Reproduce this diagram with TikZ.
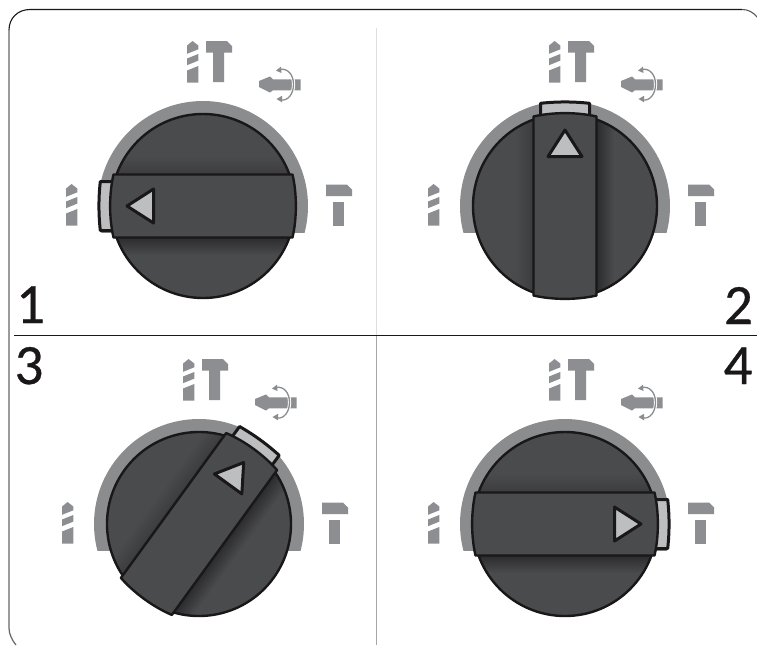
\documentclass[tikz,border=0pt]{standalone}
\usepackage{fontspec}
\setmainfont{Carlito}[FakeBold=0.5]
\definecolor{knobfill}{HTML}{4A4B4D}
\definecolor{knobdark}{HTML}{2B2B2D}
\definecolor{knobline}{HTML}{1A1718}
\definecolor{arcgrey}{HTML}{8A8C8E}
\definecolor{icongrey}{HTML}{8C8E91}
\definecolor{markfill}{HTML}{BCBEC0}
\tikzset{
  knobedge/.style={draw=knobline,line width=2.4pt,line join=round},
  markedge/.style={draw=knobline,line width=3pt,line join=round,fill=markfill},
  icon/.style={fill=icongrey},
  numeral/.style={anchor=base,inner sep=0pt,text=knobline,font=\fontsize{57}{57}\selectfont},
}
\newcommand{\drillicon}[2]{%
  \begin{scope}[shift={(#1,#2)}]
    \fill[icon] (5.6,0) -- (11.3,4.5) -- (11.3,8.3) -- (0,12.8) -- (0,4.5) -- cycle;
    \fill[icon] (11.3,13) -- (11.3,19.6) -- (0,24.2) -- (0,17.5) -- cycle;
    \fill[icon] (11.3,25) -- (11.3,41.5) -- (0,41.5) -- (0,29.5) -- cycle;
  \end{scope}}
\newcommand{\fulltee}[2]{%
  \begin{scope}[shift={(#1,#2)}]
    \fill[icon] (0,0) -- (21,0) -- (26,5) -- (26,11.5) -- (18,11.5) -- (18,41) -- (7,41) -- (7,11.5) -- (0,11.5) -- cycle;
  \end{scope}}
\newcommand{\splittee}[2]{%
  \begin{scope}[shift={(#1,#2)}]
    \fill[icon] (0,0) -- (21,0) -- (26,5) -- (26,11.5) -- (0,11.5) -- cycle;
    \fill[icon] (6.5,17) rectangle (17.5,41);
  \end{scope}}
\newcommand{\rivet}[2]{%
  \begin{scope}[shift={(#1,#2)}]
    \fill[icon] (0,14) -- (11,9.5) -- (14,12.3) -- (41.7,12.3) -- (41.7,23.3) -- (14,23.3) -- (11,25.5) -- (0,20) -- cycle;
    \draw[white,line width=3.2pt] (24,1.8) .. controls (31,2.5) and (34.5,9) .. (34.5,17.3) .. controls (34.5,26) and (31,32.5) .. (24,33);
    \draw[arcgrey,line width=1.3pt] (21,2.4) .. controls (29,1) and (34.5,8) .. (34.5,17.3) .. controls (34.5,27) and (29,34) .. (22,33);
    \fill[arcgrey] (17,3.6) -- (22,-0.4) -- (22.5,6) -- cycle;
    \fill[arcgrey] (17.5,32) -- (23,28.8) -- (23,35.3) -- cycle;
  \end{scope}}
\newcommand{\knob}[4]{%
  % #1,#2 centre; #3 rotation; #4 which side of the bar takes the strong shadow
  \begin{scope}[shift={(#1,#2)}]
    \begin{scope}
      \clip (-110,-110) rectangle (110,26);
      \fill[arcgrey] (0,0) circle (105pt);
    \end{scope}
    \begin{scope}[rotate=#3,yscale=#4]
      \draw[markedge] (-90,-24.5) -- (-102.7,-24.5) .. controls (-104.5,-8) and (-104.5,8) .. (-102.7,24.5) -- (-90,24.5);
      \fill[knobfill] (0,0) circle (92pt);
      \begin{scope}
        \clip (0,0) circle (92pt);
        \foreach \k in {0,...,18} {
          \pgfmathsetmacro{\pc}{100-\k*100/18}
          \pgfmathsetmacro{\ya}{31+\k}
          \fill[knobdark!\pc!knobfill] (-95,\ya) rectangle (95,95);
          \pgfmathsetmacro{\pb}{45-\k*45/18}
          \pgfmathsetmacro{\yb}{-31-\k}
          \fill[knobdark!\pb!knobfill] (-95,\yb) rectangle (95,-95);
        }
      \end{scope}
      \draw[knobedge] (0,0) circle (92pt);
      \draw[knobedge,fill=knobfill] (-89.5,-31.5) .. controls (-94,-12) and (-94,12) .. (-89.5,31.5)
        -- (89.5,31.5) .. controls (94,12) and (94,-12) .. (89.5,-31.5) -- cycle;
      \draw[markedge] (-76,0) -- (-49.5,-17) -- (-49.5,17) -- cycle;
    \end{scope}
    \drillicon{-16}{-165}
    \fulltee{3}{-165}
    \rivet{56}{-139}
    \drillicon{-137}{-22}
    \splittee{123}{-21.5}
  \end{scope}}
\begin{document}
\begin{tikzpicture}[x=1pt,y=-1pt]
  \useasboundingbox (0,0) rectangle (757,646);
  \fill[white] (0,0) rectangle (757,646);
  % frame pieces
  \coordinate (frameA) at (16,645);
  \coordinate (frameB) at (9,628);
  \coordinate (frameC) at (9,30);
  \coordinate (frameD) at (30,9.5);
  \coordinate (frameE) at (742,9.5);
  \coordinate (frameF) at (757,17);
  \draw[draw=black!60,line width=1.2pt] (frameA) .. controls (12,640) and (9,634) .. (frameB) -- (frameC);
  \draw[draw=knobline,line width=1.1pt] (frameC) .. controls (9,18) and (18,9.5) .. (frameD) -- (frameE);
  \draw[draw=black!65,line width=1.1pt] (frameE) .. controls (748,9.5) and (753,12) .. (frameF);
  \coordinate (vtop) at (376,28);
  \coordinate (vmid) at (376,335);
  \coordinate (vend) at (376,645);
  \draw[black!13,line width=0.8pt] (vtop) -- (vmid);
  \draw[black!35,line width=0.9pt] (vmid) -- (vend);
  \coordinate (hleft) at (14,335);
  \coordinate (hright) at (757,335);
  \draw[knobline,line width=1pt] (hleft) -- (hright);
  \knob{203}{206}{0}{1}
  \knob{565}{206}{-90}{-1}
  \knob{199}{524}{-126}{-1}
  \knob{565}{524}{180}{-1}
  \node[numeral] (n1) at (30.5,323) {1};
  \node[numeral] (n2) at (738.5,324) {2};
  \node[numeral] (n3) at (29,384) {3};
  \node[numeral] (n4) at (738,384) {4};
\end{tikzpicture}
\end{document}
